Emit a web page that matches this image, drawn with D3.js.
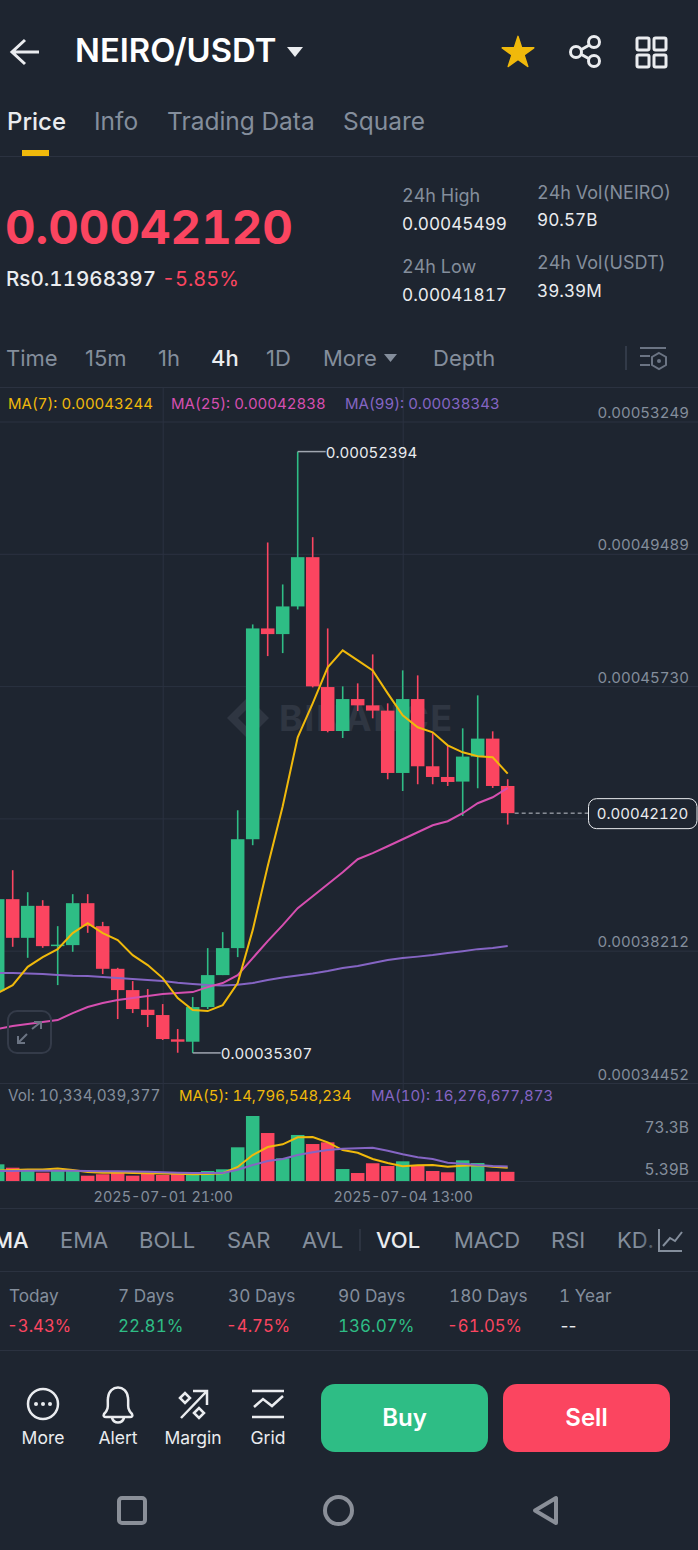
<!DOCTYPE html>
<html>
<head>
<meta charset="utf-8">
<script src="https://cdn.jsdelivr.net/npm/d3@7"></script>
<style>
html, body { margin: 0; padding: 0; background: #1e2530; }
svg { display: block; }
text { font-family: Inter, "Noto Sans", sans-serif; font-variant-numeric: tabular-nums; }
text.plain { font-variant-numeric: normal; }
</style>
</head>
<body>
<script>
// candles are 4h apart, prices in units of 1e-8 USDT
var opens = [37064,39676,38577,39486,38356,38370,39562,38909,37697,37092,36533,36383,35693,35625,36610,37518,38285,41379,47369,47208,47994,49394,45703,44454,45362,45183,45033,43262,45362,43452,43148,43017,43727,44238,42892];
var closes = [39676,38577,39486,38341,38384,39562,38909,37697,37092,36553,36383,35701,35625,36610,37518,38285,41379,47369,47208,47994,49394,45723,44454,45362,45183,45033,43262,45362,43452,43148,43006,43727,44238,42892,42120];
var highs = [39676,40499,39874,39647,38909,39818,39818,39031,37725,37348,37121,36695,35985,36894,38285,38739,42202,47483,49811,48619,52394,49962,47369,45723,45808,46631,45240,46177,46035,44425,44048,44530,45467,44445,43083];
var lows = [37035,38322,38009,38293,37234,38180,38719,37547,36269,36439,36042,35673,35312,35307,36553,37518,38029,41209,46583,46668,47909,45694,44417,44255,45022,44814,43083,42750,42941,42941,42892,42041,42827,42836,41796];
var ma7 = [37007,37234,37754,38029,38256,38711,38994,38711,38512,38086,37802,37433,36865,36524,36496,36666,37291,38796,40613,42316,44275,45240,46262,46745,46461,46177,45524,44900,44559,44417,44048,43849,43736,43707,43244];
var ma25 = [35985,36070,36127,36184,36241,36439,36610,36723,36808,36865,36922,36979,37007,37035,37177,37291,37518,38001,38483,38938,39420,39761,40102,40442,40811,40982,41180,41379,41578,41777,41890,42117,42401,42572,42838];
var ma99 = [37575,37575,37566,37547,37518,37498,37490,37461,37433,37405,37376,37348,37300,37263,37234,37226,37243,37291,37376,37447,37504,37561,37632,37717,37774,37859,37944,38001,38043,38086,38143,38199,38256,38285,38343];
// volume in billions
var volumes = [18.8,15,11.3,9.4,11.3,11.3,6,7.6,9.8,6,8.7,6.8,8.7,7.6,11.3,13.2,38,73.3,54.1,25.6,51.9,41.7,43.6,13.5,9,20,16.9,22.2,17.2,11.3,9.8,23.3,20.3,10.5,10.33];
var volMa5 = [11.8,12.4,13,13,14.1,12.4,10.1,9.4,9.6,9,8.7,8.5,8.2,7.6,7.9,8.7,15.8,29.3,38.3,41.4,49.3,49.6,43.6,34.9,31.9,24.8,20.3,16.6,17.7,18,16.1,17.2,17.7,16.1,14.8];
var volMa10 = [11.3,11.3,11.6,11.6,11.6,11.6,11.3,10.9,10.9,10.7,10.5,9.8,9.4,9,9,9,12.7,18,22.5,24.8,29.3,32.4,34.9,36.4,36.9,37.5,34.2,30.1,26.7,24.8,20.6,19.5,18,16.9,16.3];

var priceTicks = [53249,49489,45730,41971,38212,34452];
var priceTickLabels = ["0.00053249","0.00049489","0.00045730","","0.00038212","0.00034452"];
var volTicks = [73.3,5.39];
var volTickLabels = ["73.3B","5.39B"];
var timeTicks = ["2025-07-01 21:00","2025-07-04 13:00"];

var tabs = ["Price","Info","Trading Data","Square"];
var intervals = ["Time","15m","1h","4h","1D","More","Depth"];
var indicators = ["MA","EMA","BOLL","SAR","AVL","VOL","MACD","RSI","KD."];
var periods = ["Today","7 Days","30 Days","90 Days","180 Days","1 Year"];
var periodValues = ["-3.43%","22.81%","-4.75%","136.07%","-61.05%","--"];
var actions = ["More","Alert","Margin","Grid"];

var w = 698, h = 1550;
var BG = "#1e2530", GREEN = "#2ebd85", RED = "#fb4560", YELLOW = "#f0b90b", PINK = "#d64fb0", PURPLE = "#8565c4";
var GREY = "#848e9c", WHITE = "#eaecef", GRID = "#2b3240";

var svg = d3.select("body").append("svg").attr("width", w).attr("height", h);
svg.append("rect").attr("width", w).attr("height", h).attr("fill", BG);

function label(str, x, y, size, color, opts) {
    opts = opts || {};
    return svg.append("text").attr("x", x).attr("y", y)
        .attr("font-size", size).attr("fill", color)
        .attr("font-weight", opts.weight || 400)
        .attr("text-anchor", opts.anchor || "start")
        .attr("class", opts.plain ? "plain" : null)
        .text(str);
}
function hline(y, color) {
    svg.append("line").attr("x1", 0).attr("x2", w).attr("y1", y).attr("y2", y).attr("stroke", color || GRID);
}

// scales
var parseTime = d3.utcParse("%Y-%m-%d %H:%M");
var formatTime = d3.utcFormat("%Y-%m-%d %H:%M");
var times = opens.map(function(d, i) {
    return d3.utcHour.offset(parseTime("2025-06-30 01:00"), i * 4);
});
var x = d3.scaleUtc().domain(timeTicks.map(parseTime)).range([162.7, 402.7]);
var y = d3.scaleLinear().domain([34452, 53249]).range([1083, 421.5]);
var yVol = d3.scaleLinear().domain([0, 73.3]).range([1181, 1116]);
var candleW = 13.5;

// header
svg.append("path").attr("d", "M39 52H13M25 40L12 52L25 64").attr("fill", "none").attr("stroke", WHITE).attr("stroke-width", 3);
label("NEIRO/USDT", 75, 62, 32.8, "#ffffff", {weight: 600});
svg.append("path").attr("d", "M287 47H303L295 57Z").attr("fill", WHITE);
svg.append("path").attr("transform", "translate(518,53)")
    .attr("d", d3.symbol().type(d3.symbolStar).size(310)).attr("fill", YELLOW)
    .attr("stroke", YELLOW).attr("stroke-width", 1.5).attr("stroke-linejoin", "round");
var share = svg.append("g").attr("fill", "none").attr("stroke", WHITE).attr("stroke-width", 3);
share.append("path").attr("d", "M577 52L593 43M577 52L593 61");
share.append("circle").attr("cx", 576).attr("cy", 52).attr("r", 5.5).attr("fill", BG);
share.append("circle").attr("cx", 594).attr("cy", 42).attr("r", 5.5).attr("fill", BG);
share.append("circle").attr("cx", 594).attr("cy", 61).attr("r", 5.5).attr("fill", BG);
[[637,38],[654,38],[637,55],[654,55]].forEach(function(p) {
    svg.append("rect").attr("x", p[0]).attr("y", p[1]).attr("width", 12).attr("height", 12).attr("rx", 1.5)
        .attr("fill", "none").attr("stroke", WHITE).attr("stroke-width", 3);
});

// tabs
var tabX = [7, 94, 167, 343];
tabs.forEach(function(t, i) {
    label(t, tabX[i], 130, i == 0 ? 24 : 24.5, i == 0 ? WHITE : GREY, {weight: i == 0 ? 500 : 400});
});
svg.append("rect").attr("x", 22).attr("y", 150).attr("width", 27).attr("height", 6).attr("fill", YELLOW);
hline(156.5);

// price block
label("0.00042120", 5, 244, 47.3, RED, {weight: 700});
label("Rs0.11968397", 6, 286, 20.6, WHITE, {weight: 500});
label("-5.85%", 162, 286, 20, RED);
label("24h High", 402, 202, 18, GREY);
label("0.00045499", 402, 230, 17.2, WHITE);
label("24h Low", 402, 273, 18, GREY);
label("0.00041817", 402, 301, 17.2, WHITE);
label("24h Vol(NEIRO)", 537, 199, 18, GREY);
label("90.57B", 537, 226, 17.2, WHITE);
label("24h Vol(USDT)", 537, 269, 18, GREY);
label("39.39M", 537, 297, 17.2, WHITE);

// interval row
var intervalX = [6, 85, 158, 211, 266, 323, 433];
intervals.forEach(function(t, i) {
    label(t, intervalX[i], 366, 22, t == "4h" ? WHITE : GREY, {weight: t == "4h" ? 500 : 400, plain: true});
});
svg.append("path").attr("d", "M384 354H397L390.5 362Z").attr("fill", GREY);
svg.append("line").attr("x1", 626).attr("x2", 626).attr("y1", 346).attr("y2", 370).attr("stroke", "#3a4250").attr("stroke-width", 1.5);
svg.append("path").attr("d", "M640 348H666M640 356H650M640 365H650M659 353L666 357V365L659 369L652 365V357Z")
    .attr("fill", "none").attr("stroke", "#6b7483").attr("stroke-width", 2);
svg.append("circle").attr("cx", 659).attr("cy", 361).attr("r", 2).attr("fill", "#6b7483");
hline(387.5);

// price axis with full width grid lines
var priceAxis = d3.axisRight(y).tickValues(priceTicks).tickSize(w)
    .tickFormat(function(d, i) { return priceTickLabels[i]; });
var gPrice = svg.append("g").call(priceAxis);
gPrice.select(".domain").remove();
gPrice.selectAll("line").attr("stroke", GRID);
gPrice.selectAll("text").attr("x", 689).attr("dy", -4).attr("text-anchor", "end")
    .attr("font-size", 15).attr("fill", GREY);
gPrice.attr("font-family", null);

// vertical grid and time labels
var timeAxis = d3.axisBottom(x).tickValues(timeTicks.map(parseTime)).tickFormat(formatTime).tickSize(0);
var gTime = svg.append("g").attr("transform", "translate(0,1181)").call(timeAxis);
gTime.select(".domain").remove();
gTime.selectAll("text").attr("y", 21).attr("dy", 0).attr("font-size", 14.5).attr("fill", GREY);
gTime.attr("font-family", null);
gTime.selectAll("line").attr("y1", 0).attr("y2", 388 - 1181).attr("stroke", GRID);

// watermark
var mark = svg.append("g").attr("fill", "#2f3642");
mark.append("path").attr("transform", "translate(248,718)").attr("d", "M0-21L21 0L0 21L-21 0ZM0-10L-10 0L0 10L10 0Z").attr("fill-rule", "evenodd");
label("BINANCE", 279, 731, 36, "#2f3642", {weight: 700}).attr("letter-spacing", 1.5);

// candles
var candles = svg.append("g").selectAll("g").data(times).enter().append("g");
function candleColor(d, i) { return closes[i] >= opens[i] ? GREEN : RED; }
candles.append("line")
    .attr("x1", function(d) { return x(d); })
    .attr("x2", function(d) { return x(d); })
    .attr("y1", function(d, i) { return y(highs[i]); })
    .attr("y2", function(d, i) { return y(lows[i]); })
    .attr("stroke", candleColor).attr("stroke-width", 1.6);
candles.append("rect")
    .attr("x", function(d) { return x(d) - candleW / 2; })
    .attr("width", candleW)
    .attr("y", function(d, i) { return y(Math.max(opens[i], closes[i])); })
    .attr("height", function(d, i) { return Math.max(1.5, Math.abs(y(opens[i]) - y(closes[i]))); })
    .attr("fill", candleColor);

// moving averages
function drawLine(values, scale, color) {
    var line = d3.line()
        .x(function(d, i) { return x(times[i]); })
        .y(function(d) { return scale(d); });
    svg.append("path").datum(values).attr("d", line)
        .attr("fill", "none").attr("stroke", color).attr("stroke-width", 2);
}
drawLine(ma99, y, PURPLE);
drawLine(ma25, y, PINK);
drawLine(ma7, y, YELLOW);

// high and low callouts
function callout(i, val, str) {
    var px = x(times[i]);
    svg.append("line").attr("x1", px).attr("x2", px + 28).attr("y1", y(val)).attr("y2", y(val)).attr("stroke", "#a0a6b0").attr("stroke-width", 1.5);
    label(str, px + 28, y(val) + 6, 15, WHITE);
}
callout(20, d3.max(highs), "0.00052394");
callout(13, d3.min(lows), "0.00035307");

// last price tag
var last = closes[closes.length - 1];
svg.append("line").attr("x1", x(times[34]) + 7).attr("x2", 588).attr("y1", y(last)).attr("y2", y(last))
    .attr("stroke", "#c0c4cc").attr("stroke-dasharray", "4 3");
svg.append("rect").attr("x", 588.5).attr("y", y(last) - 14.5).attr("width", 108.5).attr("height", 30).attr("rx", 8)
    .attr("fill", BG).attr("stroke", WHITE);
label("0.00042120", 642.5, y(last) + 6, 15, WHITE, {anchor: "middle"});

// MA legend
label("MA(7): 0.00043244", 8, 409, 15, YELLOW);
label("MA(25): 0.00042838", 171, 409, 15, PINK);
label("MA(99): 0.00038343", 345, 409, 15, PURPLE);

// expand button
svg.append("rect").attr("x", 8).attr("y", 1011).attr("width", 43).attr("height", 42).attr("rx", 9)
    .attr("fill", "none").attr("stroke", "#343b49").attr("stroke-width", 2);
svg.append("path").attr("d", "M18 1043L27 1034M18 1036V1043H25M32 1029L41 1022M34 1022H41V1029")
    .attr("fill", "none").attr("stroke", "#6b7483").attr("stroke-width", 2);

// volume panel
label("Vol: 10,334,039,377", 8, 1101, 15.3, GREY);
label("MA(5): 14,796,548,234", 179, 1101, 15, YELLOW);
label("MA(10): 16,276,677,873", 371, 1101, 15, PURPLE);

svg.append("g").selectAll("rect").data(volumes).enter().append("rect")
    .attr("x", function(d, i) { return x(times[i]) - candleW / 2; })
    .attr("width", candleW)
    .attr("y", function(d) { return yVol(d); })
    .attr("height", function(d) { return yVol(0) - yVol(d); })
    .attr("fill", candleColor);
drawLine(volMa5, yVol, YELLOW);
drawLine(volMa10, yVol, PURPLE);

var volAxis = d3.axisRight(yVol).tickValues(volTicks).tickSize(0)
    .tickFormat(function(d, i) { return volTickLabels[i]; });
var gVol = svg.append("g").call(volAxis);
gVol.select(".domain").remove();
gVol.attr("font-family", null);
gVol.selectAll("text").attr("x", 689).attr("text-anchor", "end").attr("font-size", 15.5).attr("fill", GREY)
    .attr("dy", function(d, i) { return i == 0 ? 16 : -2; });
hline(1181.5);
hline(1208.5);

// indicator tabs
var indicatorX = [-7, 60, 139, 227, 302, 376, 454, 551, 617];
indicators.forEach(function(t, i) {
    var on = t == "MA" || t == "VOL";
    label(t, indicatorX[i], 1248, 22, on ? WHITE : GREY, {weight: on ? 500 : 400});
});
svg.append("line").attr("x1", 360).attr("x2", 360).attr("y1", 1229).attr("y2", 1251).attr("stroke", "#3a4250");
var fade = svg.append("defs").append("linearGradient").attr("id", "fade");
fade.append("stop").attr("offset", 0).attr("stop-color", BG).attr("stop-opacity", 0);
fade.append("stop").attr("offset", 0.45).attr("stop-color", BG).attr("stop-opacity", 1);
svg.append("rect").attr("x", 638).attr("y", 1222).attr("width", 60).attr("height", 40).attr("fill", "url(#fade)");
svg.append("path").attr("d", "M659 1229V1251H682M663 1246L670 1238L675 1241L682 1232")
    .attr("fill", "none").attr("stroke", GREY).attr("stroke-width", 2);
hline(1271.5);

// period change row
var periodX = [9, 118, 228, 338, 449, 559];
periods.forEach(function(t, i) {
    label(t, periodX[i], 1302, 17.2, GREY);
    var v = periodValues[i];
    var neg = v[0] == "-" && v != "--";
    var txt = label(v, periodX[i] - (neg ? 2 : 0), 1332, neg ? 16.7 : 17, v == "--" ? WHITE : (neg ? RED : GREEN));
    if (v == "--") txt.attr("letter-spacing", -3);
});
hline(1350.5);

// bottom actions
var actionX = [43, 118, 193, 268];
actions.forEach(function(t, i) {
    label(t, actionX[i], 1444, 17.5, WHITE, {anchor: "middle"});
});
var icons = svg.append("g").attr("fill", "none").attr("stroke", WHITE).attr("stroke-width", 2.5);
icons.append("circle").attr("cx", 43).attr("cy", 1404).attr("r", 15);
svg.selectAll(".dot").data([36, 43, 50]).enter().append("circle").attr("class", "dot")
    .attr("cx", function(d) { return d; }).attr("cy", 1404).attr("r", 2).attr("fill", WHITE);
icons.append("path").attr("d", "M104 1414C110 1408 107 1404 108 1398C109 1384 127 1384 128 1398C129 1404 126 1408 132 1414C133 1416 132 1417 130 1417H106C104 1417 103 1416 104 1414ZM112 1418C114 1424 122 1424 124 1418");
icons.append("path").attr("d", "M181 1418L206 1392M193 1391H207V1405");
icons.append("path").attr("d", "M180 1398L185 1393L190 1398L185 1403ZM194 1413L199 1408L204 1413L199 1418Z");
icons.append("path").attr("d", "M252 1391H284M252 1417H284M254 1407L263 1399L272 1406L283 1396");

svg.append("rect").attr("x", 321).attr("y", 1384).attr("width", 167).attr("height", 68).attr("rx", 14).attr("fill", GREEN);
svg.append("rect").attr("x", 503).attr("y", 1384).attr("width", 167).attr("height", 68).attr("rx", 14).attr("fill", RED);
label("Buy", 404.5, 1426, 24, "#ffffff", {anchor: "middle", weight: 600});
label("Sell", 586.5, 1426, 24, "#ffffff", {anchor: "middle", weight: 600});

// android nav bar
var nav = svg.append("g").attr("fill", "none").attr("stroke", "#8a8f98").attr("stroke-width", 4);
nav.append("rect").attr("x", 119).attr("y", 1498).attr("width", 26).attr("height", 25).attr("rx", 3);
nav.append("circle").attr("cx", 338.5).attr("cy", 1510.5).attr("r", 13.5);
nav.append("path").attr("d", "M556 1498V1523L535 1510.5Z").attr("stroke-linejoin", "round");
</script>
</body>
</html>
